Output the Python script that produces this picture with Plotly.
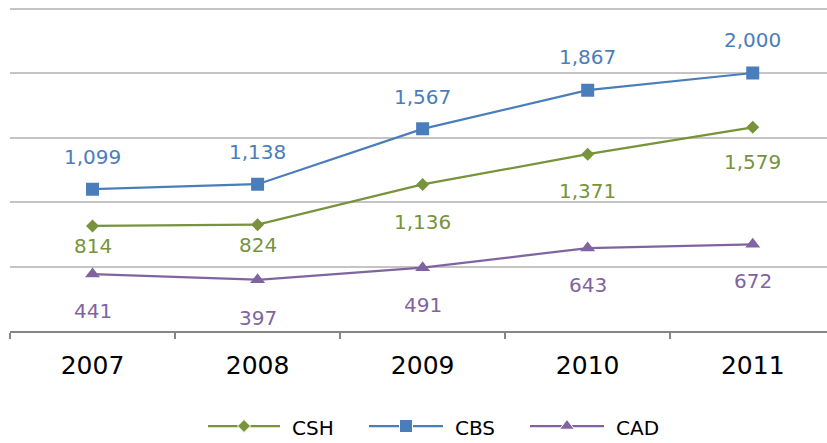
import plotly.graph_objects as go

years = ["2007", "2008", "2009", "2010", "2011"]
csh = [814, 824, 1136, 1371, 1579]
cbs = [1099, 1138, 1567, 1867, 2000]
cad = [441, 397, 491, 643, 672]
series_names = ["CSH", "CBS", "CAD"]

W, H = 827, 443
FONT = "DejaVu Sans"

colors = {"CSH": "#77933c", "CBS": "#4a7ebb", "CAD": "#8064a2"}
symbols = {"CSH": "diamond", "CBS": "square", "CAD": "triangle-up"}
msizes = {"CSH": 10, "CBS": 13, "CAD": 13}
# label pixel offsets (positive = above point)
offsets = {
    "CSH": [-20, -20, -38, -37, -35],
    "CBS": [32, 32, 32, 33, 33],
    "CAD": [-37, -38, -37, -37, -37],
}
values = {"CSH": csh, "CBS": cbs, "CAD": cad}

fig = go.Figure()
annotations = []
for name in series_names:
    fig.add_trace(go.Scatter(
        x=years, y=values[name], mode="lines+markers", name=name,
        line=dict(color=colors[name], width=2.25),
        marker=dict(symbol=symbols[name], size=msizes[name], color=colors[name], opacity=1),
        showlegend=False, xaxis="x", yaxis="y",
    ))
    for i, (yv, off) in enumerate(zip(values[name], offsets[name])):
        annotations.append(dict(
            x=i, y=yv, xref="x", yref="y", text=f"{yv:,}", showarrow=False,
            yshift=off, font=dict(family=FONT, size=20, color=colors[name]),
            xanchor="center", yanchor="middle",
        ))

# custom legend on a helper pixel-space axis
legend_items = [("CSH", 208, 280, 290), ("CBS", 369, 443, 453), ("CAD", 530, 604, 614)]
LY = 426
for name, x0, x1, tx in legend_items:
    xm = (x0 + x1) / 2
    fig.add_trace(go.Scatter(
        x=[x0, xm, x1], y=[LY, LY, LY], mode="lines+markers",
        line=dict(color=colors[name], width=2.25),
        marker=dict(symbol=symbols[name], size=[0, msizes[name], 0],
                    color=colors[name], opacity=1),
        showlegend=False, hoverinfo="skip", xaxis="x2", yaxis="y2",
    ))
    annotations.append(dict(
        x=tx, y=LY + 2, xref="x2", yref="y2", text=name, showarrow=False,
        xanchor="left", yanchor="middle",
        font=dict(family=FONT, size=20, color="#000000"),
    ))

plot_left, plot_bottom = 10, 331
px_per_unit = (331 - 8.5) / 2500
ymax = 2515
plot_top = plot_bottom - ymax * px_per_unit
fig.update_layout(
    width=W, height=H,
    margin=dict(l=0, r=0, t=0, b=0),
    paper_bgcolor="white", plot_bgcolor="rgba(0,0,0,0)",
    font=dict(family=FONT),
    xaxis=dict(
        type="category", domain=[plot_left / W, 1], range=[-0.5, 4.45],
        showgrid=False, showline=True, linecolor="#868686", linewidth=2,
        ticks="outside", tickson="boundaries", ticklen=6, tickwidth=2,
        tickcolor="#868686", tickfont=dict(family=FONT, size=25, color="#000000"),
        anchor="y", zeroline=False, ticklabelstandoff=11,
    ),
    yaxis=dict(
        domain=[(H - plot_bottom) / H, (H - plot_top) / H], range=[0, ymax],
        dtick=500, tick0=0, showticklabels=False, showgrid=True,
        gridcolor="#c4c4c4", gridwidth=2, zeroline=False, showline=False,
        anchor="x",
    ),
    xaxis2=dict(domain=[0, 1], range=[0, W], visible=False, anchor="y2"),
    yaxis2=dict(domain=[0, 1], range=[H, 0], visible=False, anchor="x2"),
    annotations=annotations,
    showlegend=False,
)

fig.write_html("out.html", config={"displayModeBar": False},
               post_script="document.body.style.margin='0';")
